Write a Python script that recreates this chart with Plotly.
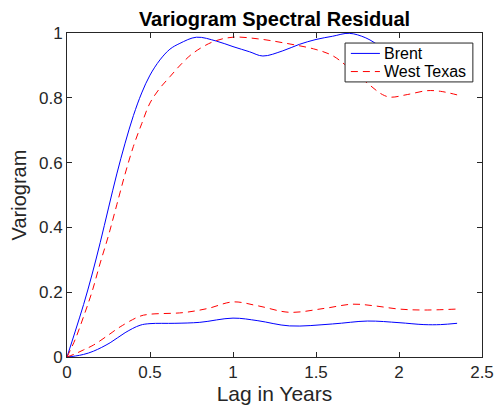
import plotly.graph_objects as go

# Upper (high-variogram) curves
brent_hi_x = [0, 0.05, 0.1, 0.15, 0.2, 0.25, 0.3, 0.35, 0.4, 0.45, 0.5, 0.56, 0.62, 0.68, 0.78, 0.9, 1.0, 1.1, 1.18, 1.3, 1.4, 1.5, 1.6, 1.7, 1.8, 1.9, 2.0, 2.1, 2.2, 2.36]
brent_hi_y = [0, 0.08, 0.162, 0.253, 0.353, 0.46, 0.565, 0.66, 0.745, 0.815, 0.87, 0.917, 0.95, 0.968, 0.987, 0.975, 0.958, 0.942, 0.929, 0.945, 0.965, 0.98, 0.99, 0.999, 0.985, 0.955, 0.93, 0.91, 0.90, 0.90]
wtx_hi_x = [0, 0.05, 0.1, 0.15, 0.2, 0.25, 0.3, 0.35, 0.4, 0.45, 0.5, 0.56, 0.62, 0.69, 0.76, 0.88, 1.0, 1.15, 1.3, 1.5, 1.6, 1.69, 1.81, 1.9, 1.95, 2.05, 2.17, 2.25, 2.35]
wtx_hi_y = [0, 0.055, 0.125, 0.2, 0.29, 0.375, 0.47, 0.565, 0.65, 0.72, 0.784, 0.83, 0.865, 0.905, 0.938, 0.973, 0.987, 0.982, 0.970, 0.949, 0.93, 0.896, 0.845, 0.81, 0.802, 0.81, 0.822, 0.82, 0.809]

# Lower (low-variogram) curves
brent_lo_x = [0, 0.05, 0.1, 0.16, 0.26, 0.35, 0.44, 0.5, 0.65, 0.8, 1.0, 1.15, 1.34, 1.6, 1.81, 2.0, 2.15, 2.25, 2.35]
brent_lo_y = [0, 0.003, 0.008, 0.018, 0.044, 0.075, 0.098, 0.103, 0.104, 0.107, 0.12, 0.112, 0.096, 0.102, 0.111, 0.106, 0.100, 0.100, 0.104]
wtx_lo_x = [0, 0.05, 0.1, 0.16, 0.25, 0.32, 0.44, 0.5, 0.7, 0.85, 1.0, 1.15, 1.34, 1.55, 1.72, 1.85, 2.0, 2.15, 2.35]
wtx_lo_y = [0, 0.01, 0.022, 0.037, 0.068, 0.093, 0.126, 0.132, 0.137, 0.150, 0.170, 0.158, 0.138, 0.150, 0.163, 0.158, 0.148, 0.145, 0.148]

series_names = ["Brent", "West Texas"]

x_ticks = [0, 0.5, 1, 1.5, 2, 2.5]
x_tick_labels = ["0", "0.5", "1", "1.5", "2", "2.5"]
y_ticks = [0, 0.2, 0.4, 0.6, 0.8, 1]
y_tick_labels = ["0", "0.2", "0.4", "0.6", "0.8", "1"]

BLUE = "#0000FF"
RED = "#FF0000"
AX = "#262626"
DASH = "7px,5px"
FONT = "Liberation Sans, Arial, Helvetica, sans-serif"

fig = go.Figure()
fig.add_trace(go.Scatter(x=brent_hi_x, y=brent_hi_y, mode="lines", name=series_names[0],
                         line=dict(color=BLUE, width=1, shape="spline")))
fig.add_trace(go.Scatter(x=wtx_hi_x, y=wtx_hi_y, mode="lines", name=series_names[1],
                         line=dict(color=RED, width=1, dash=DASH, shape="spline")))
fig.add_trace(go.Scatter(x=brent_lo_x, y=brent_lo_y, mode="lines", name=series_names[0],
                         line=dict(color=BLUE, width=1, shape="spline")))
fig.add_trace(go.Scatter(x=wtx_lo_x, y=wtx_lo_y, mode="lines", name=series_names[1],
                         line=dict(color=RED, width=1, dash=DASH, shape="spline")))

axis_common = dict(
    showgrid=False, zeroline=False, showline=True, linecolor=AX, linewidth=1,
    mirror="allticks", ticks="inside", ticklen=5, tickcolor=AX, tickwidth=1,
    tickfont=dict(family=FONT, size=17, color=AX), automargin=False,
)

# Manual MATLAB-style legend (paper coordinates of the plot area)
lx0, lx1, ly0, ly1 = 0.670, 0.978, 0.849, 0.969
row_y = [0.937, 0.881]
sample_x0, sample_x1, text_x = 0.684, 0.754, 0.758
shapes = [dict(type="rect", xref="paper", yref="paper", x0=lx0, x1=lx1, y0=ly0, y1=ly1,
               fillcolor="white", line=dict(color=AX, width=1), layer="above")]
shapes.append(dict(type="line", xref="paper", yref="paper", x0=sample_x0, x1=sample_x1,
                   y0=row_y[0], y1=row_y[0], line=dict(color=BLUE, width=1), layer="above"))
shapes.append(dict(type="line", xref="paper", yref="paper", x0=sample_x0, x1=sample_x1,
                   y0=row_y[1], y1=row_y[1], line=dict(color=RED, width=1, dash=DASH), layer="above"))
annotations = [dict(text=name, xref="paper", yref="paper", x=text_x, y=yy, xanchor="left",
                    yanchor="middle", showarrow=False,
                    font=dict(family=FONT, size=16, color="black"))
               for name, yy in zip(series_names, row_y)]

fig.update_layout(
    width=496, height=406,
    margin=dict(l=67, r=14, t=33, b=49),
    paper_bgcolor="white", plot_bgcolor="white",
    showlegend=False,
    title=dict(text="<b>Variogram Spectral Residual</b>", x=0.5, xref="paper", xanchor="center",
               y=0.953, yanchor="middle", font=dict(family=FONT, size=20, color="black"),
               automargin=False),
    xaxis=dict(range=[0, 2.5], tickvals=x_ticks, ticktext=x_tick_labels,
               title=dict(text="Lag in Years", font=dict(family=FONT, size=21, color=AX), standoff=3),
               **axis_common),
    yaxis=dict(range=[0, 1], tickvals=y_ticks, ticktext=y_tick_labels,
               title=dict(text="Variogram", font=dict(family=FONT, size=20, color=AX), standoff=6),
               **axis_common),
    shapes=shapes,
    annotations=annotations,
)

fig.write_html("out.html")
